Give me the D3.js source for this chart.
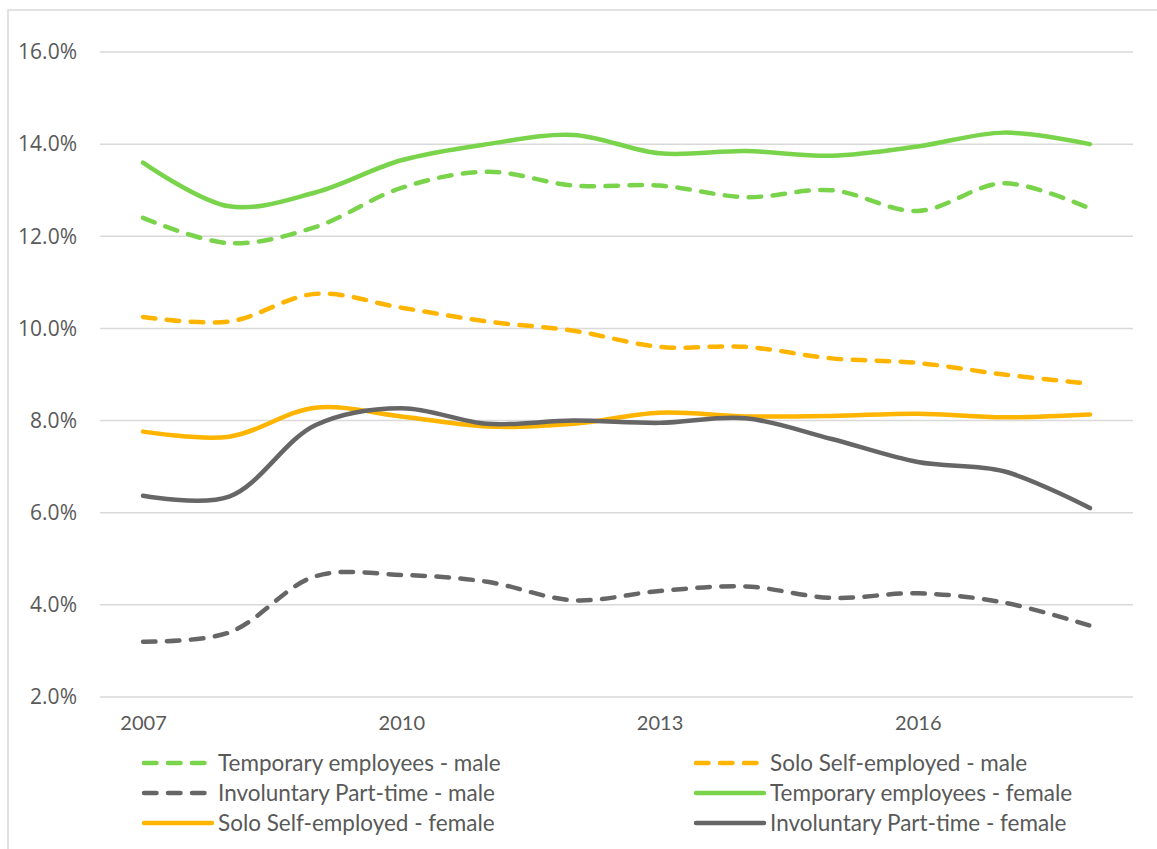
<!DOCTYPE html>
<html>
<head>
<meta charset="utf-8">
<script src="https://cdn.jsdelivr.net/npm/d3@7.9.0/dist/d3.min.js"></script>
<style>
  body { margin: 0; background: #fff; }
  svg { display: block; }
  .ylab text { font-family: "Open Sans", sans-serif; font-size: 21px; fill: #595959; }
  .xlab text { font-family: Lato, sans-serif; font-size: 20px; fill: #595959; }
</style>
</head>
<body>
<div id="chart"></div>
<script>
const years = [2007, 2008, 2009, 2010, 2011, 2012, 2013, 2014, 2015, 2016, 2017, 2018];
const yearLabels = [2007, 2010, 2013, 2016];
const yTicks = [2, 4, 6, 8, 10, 12, 14, 16];

const tempMale    = [12.4, 11.85, 12.2, 13.05, 13.4, 13.1, 13.1, 12.85, 13.0, 12.55, 13.15, 12.6];
const soloMale    = [10.25, 10.15, 10.75, 10.45, 10.15, 9.95, 9.6, 9.6, 9.35, 9.25, 9.0, 8.8];
const invMale     = [3.2, 3.4, 4.62, 4.65, 4.5, 4.1, 4.3, 4.4, 4.15, 4.25, 4.05, 3.55];
const tempFemale  = [13.6, 12.65, 12.95, 13.65, 14.0, 14.2, 13.8, 13.85, 13.75, 13.95, 14.25, 14.0];
const soloFemale  = [7.76, 7.65, 8.28, 8.09, 7.87, 7.93, 8.17, 8.09, 8.1, 8.15, 8.07, 8.13];
const invFemale   = [6.37, 6.35, 7.9, 8.27, 7.93, 8.0, 7.95, 8.05, 7.6, 7.1, 6.9, 6.1];

const green = "#79d44c", orange = "#ffb400", grey = "#666666";

// legend order (two columns, three rows)
const series = [
  { name: "Temporary employees - male",   values: tempMale,   color: green,  dashed: true },
  { name: "Solo Self-employed - male",    values: soloMale,   color: orange, dashed: true },
  { name: "Involuntary Part-time - male", values: invMale,    color: grey,   dashed: true },
  { name: "Temporary employees - female", values: tempFemale, color: green,  dashed: false },
  { name: "Solo Self-employed - female",  values: soloFemale, color: orange, dashed: false },
  { name: "Involuntary Part-time - female", values: invFemale, color: grey,  dashed: false }
];

const width = 1157, height = 849;
const plot = { left: 100, right: 1133, top: 52, bottom: 697 };

const svg = d3.select("#chart").append("svg")
  .attr("width", width)
  .attr("height", height);

// chart frame (only top/left visible)
svg.append("path")
  .attr("d", `M8,${height}V10H${width}`)
  .attr("fill", "none")
  .attr("stroke", "#d9d9d9")
  .attr("stroke-width", 1.5);

const x = d3.scalePoint()
  .domain(years)
  .range([plot.left, plot.right])
  .padding(0.5);

const y = d3.scaleLinear()
  .domain([2, 16])
  .range([plot.bottom, plot.top]);

// gridlines
svg.append("g")
  .selectAll("line")
  .data(yTicks)
  .join("line")
  .attr("x1", plot.left)
  .attr("x2", plot.right)
  .attr("y1", d => y(d))
  .attr("y2", d => y(d))
  .attr("stroke", "#d9d9d9")
  .attr("stroke-width", 1.5);

// y axis labels
const yAxis = svg.append("g")
  .attr("class", "ylab")
  .attr("transform", `translate(${plot.left},0)`)
  .call(d3.axisLeft(y).tickValues(yTicks).tickFormat(d => d.toFixed(1) + "%").tickSize(0).tickPadding(23));
yAxis.select(".domain").remove();

// x axis labels
const xAxis = svg.append("g")
  .attr("class", "xlab")
  .attr("transform", `translate(0,${plot.bottom})`)
  .call(d3.axisBottom(x).tickValues(yearLabels).tickSize(0).tickPadding(19));
xAxis.select(".domain").remove();

const line = d3.line()
  .x((d, i) => x(years[i]))
  .y(d => y(d))
  .curve(d3.curveCatmullRom.alpha(0.5));

const drawOrder = [tempFemale, tempMale, soloMale, soloFemale, invFemale, invMale];
const ordered = drawOrder.map(v => series.find(s => s.values === v));

svg.append("g")
  .selectAll("path")
  .data(ordered)
  .join("path")
  .attr("d", d => line(d.values))
  .attr("fill", "none")
  .attr("stroke", d => d.color)
  .attr("stroke-width", 4.5)
  .attr("stroke-linecap", "round")
  .attr("stroke-linejoin", "round")
  .attr("stroke-dasharray", d => d.dashed ? "12.5,11.5" : null);

// legend
const legend = svg.append("g")
  .selectAll("g")
  .data(series)
  .join("g")
  .attr("transform", (d, i) => `translate(${i % 2 === 0 ? 144 : 696},${763 + Math.floor(i / 2) * 30})`);

legend.append("line")
  .attr("x1", 0)
  .attr("x2", d => d.dashed ? 62 : 68)
  .attr("stroke", d => d.color)
  .attr("stroke-width", 4.5)
  .attr("stroke-linecap", "round")
  .attr("stroke-dasharray", d => d.dashed ? "12.5,11.5" : null);

legend.append("text")
  .attr("x", 74)
  .attr("dy", "0.35em")
  .attr("fill", "#595959")
  .style("font-family", "Lato, sans-serif")
  .style("font-size", "22.5px")
  .text(d => d.name);
</script>
</body>
</html>
